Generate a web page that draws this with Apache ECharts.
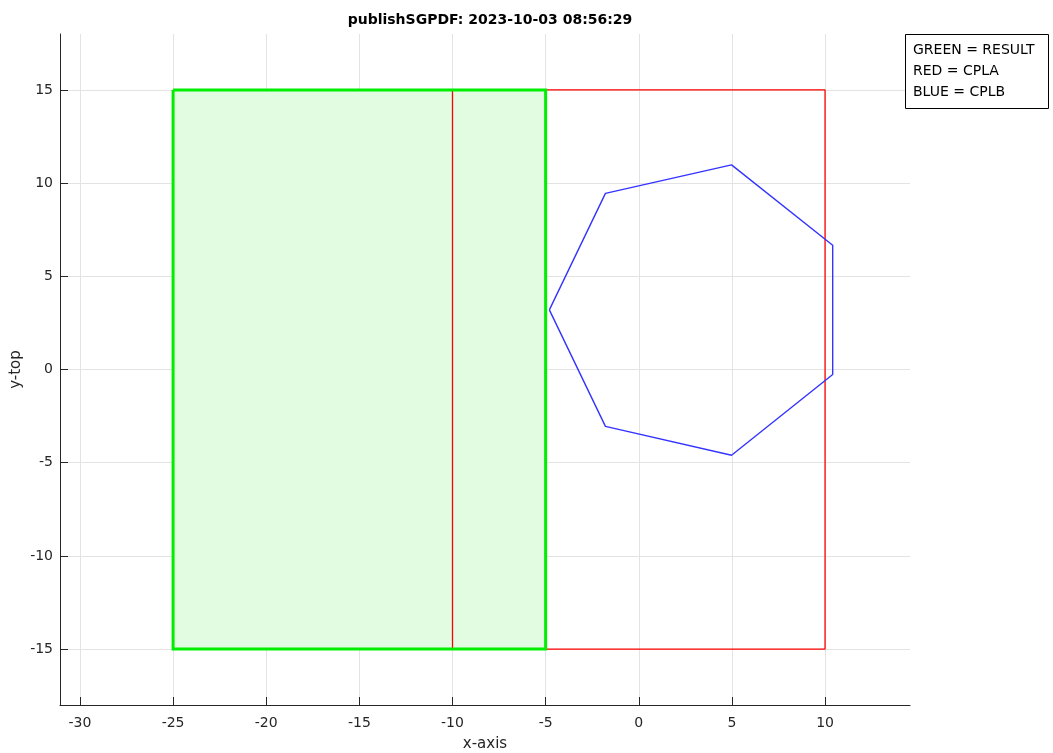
<!DOCTYPE html>
<html>
<head>
<meta charset="utf-8">
<title>publishSGPDF</title>
<script src="https://cdn.jsdelivr.net/npm/echarts@6/dist/echarts.min.js"></script>
<style>
  html, body { margin: 0; padding: 0; background: #ffffff; }
  #chart { width: 1053px; height: 753px; }
</style>
</head>
<body>
<div id="chart"></div>
<script>
// Polygon outlines (closed: first point repeated at the end)
const resultX = [-25, -5, -5, -25, -25];
const resultY = [15, 15, -15, -15, 15];

const cplaX = [-10, 10, 10, -10, -10];
const cplaY = [15, 15, -15, -15, 15];

const cplbX = [-4.8, -1.79, 4.98, 10.41, 10.41, 4.98, -1.79, -4.8];
const cplbY = [3.2, 9.45, 10.98, 6.67, -0.27, -4.6, -3.05, 3.2];

// Axis tick values
const xTicks = [-30, -25, -20, -15, -10, -5, 0, 5, 10];
const yTicks = [-15, -10, -5, 0, 5, 10, 15];

const legendLines = ['GREEN = RESULT', 'RED = CPLA', 'BLUE = CPLB'];

function pairs(xs, ys) {
  return xs.map((x, i) => [x, ys[i]]);
}

const FONT = '"DejaVu Sans", "Liberation Sans", Arial, sans-serif';
const AXIS_COLOR = '#262626';
const GRID_COLOR = '#e3e3e3';

const chart = echarts.init(document.getElementById('chart'), null, { renderer: 'canvas' });

// Legend box: frame plus one text line per entry
const legendGraphics = [
  {
    type: 'rect',
    x: 905.5,
    y: 34.5,
    shape: { width: 143, height: 74 },
    style: { fill: '#ffffff', stroke: '#000000', lineWidth: 1 },
    z: 10
  }
].concat(legendLines.map((t, i) => ({
  type: 'text',
  x: 913,
  y: 50 + i * 21,
  z: 11,
  style: {
    text: t,
    font: '14px ' + FONT,
    fill: '#000000',
    verticalAlign: 'middle'
  }
})));

const option = {
  backgroundColor: '#ffffff',
  animation: false,
  title: {
    text: 'publishSGPDF: 2023-10-03 08:56:29',
    left: 485,
    top: 8,
    textAlign: 'center',
    textStyle: { fontFamily: FONT, fontSize: 14, fontWeight: 'bold', color: '#000000' }
  },
  grid: {
    left: 60, right: 143, top: 34, bottom: 48,
    containLabel: false,
    outerBoundsMode: 'none'
  },
  xAxis: {
    type: 'value',
    min: -31.07,
    max: 14.56,
    name: 'x-axis',
    nameLocation: 'middle',
    nameGap: 32,
    nameMoveOverlap: false,
    nameTextStyle: { fontFamily: FONT, fontSize: 15, color: AXIS_COLOR },
    axisLine: { show: true, onZero: false, lineStyle: { color: AXIS_COLOR, width: 1 } },
    axisTick: { show: true, inside: true, length: 8, customValues: xTicks, lineStyle: { color: AXIS_COLOR } },
    axisLabel: { customValues: xTicks, margin: 11, fontFamily: FONT, fontSize: 14, color: AXIS_COLOR },
    splitLine: { show: true, lineStyle: { color: GRID_COLOR, width: 1 } }
  },
  yAxis: {
    type: 'value',
    min: -18,
    max: 18,
    name: 'y-top',
    nameLocation: 'middle',
    nameGap: 36,
    nameMoveOverlap: false,
    nameRotate: 90,
    nameTextStyle: { fontFamily: FONT, fontSize: 15, color: AXIS_COLOR },
    axisLine: { show: true, onZero: false, lineStyle: { color: AXIS_COLOR, width: 1 } },
    axisTick: { show: true, inside: true, length: 8, customValues: yTicks, lineStyle: { color: AXIS_COLOR } },
    axisLabel: { customValues: yTicks, margin: 7, fontFamily: FONT, fontSize: 14, color: AXIS_COLOR },
    splitLine: { show: true, lineStyle: { color: GRID_COLOR, width: 1 } }
  },
  series: [
    {
      // RESULT fill
      type: 'custom',
      name: 'RESULT fill',
      coordinateSystem: 'cartesian2d',
      data: [[resultX[0], resultY[0]]],
      silent: true,
      z: 1,
      renderItem: function (params, api) {
        const pts = resultX.map((x, i) => api.coord([x, resultY[i]]));
        return {
          type: 'polygon',
          shape: { points: pts },
          style: { fill: '#e2fce2', stroke: 'none' }
        };
      }
    },
    {
      type: 'line',
      name: 'CPLA',
      data: pairs(cplaX, cplaY),
      symbol: 'none',
      z: 2,
      lineStyle: { color: '#ff0000', width: 1.3 }
    },
    {
      type: 'line',
      name: 'CPLB',
      data: pairs(cplbX, cplbY),
      symbol: 'none',
      z: 3,
      lineStyle: { color: '#3434ff', width: 1.4 }
    },
    {
      type: 'line',
      name: 'RESULT',
      data: pairs(resultX, resultY),
      symbol: 'none',
      z: 4,
      lineStyle: { color: '#00ee00', width: 3, join: 'miter' }
    }
  ],
  graphic: legendGraphics
};

chart.setOption(option);
</script>
</body>
</html>
